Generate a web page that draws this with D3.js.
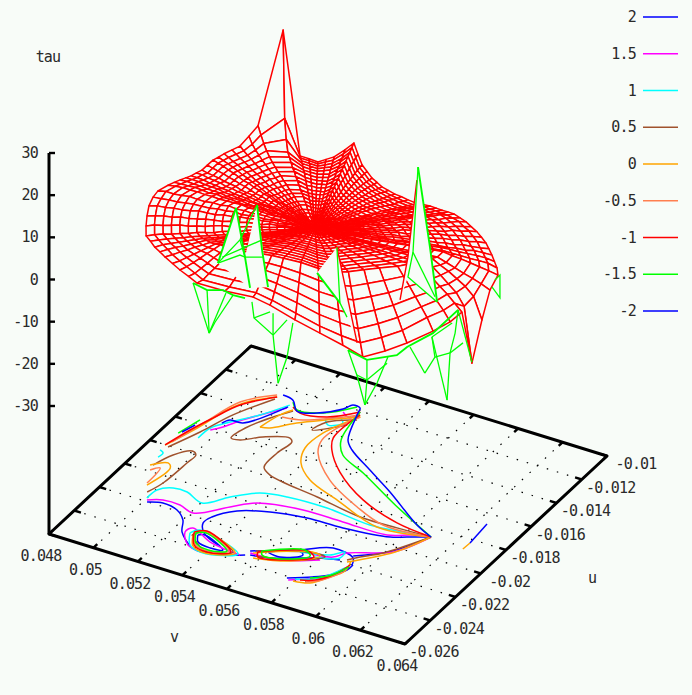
<!DOCTYPE html>
<html>
<head>
<meta charset="utf-8">
<script src="https://d3js.org/d3.v7.min.js"></script>
<style>
body { margin: 0; background: #f8fcf8; }
text { font-family: "DejaVu Sans Mono", monospace; font-size: 15px; letter-spacing: -0.8px; fill: #2a2a2a; }
</style>
</head>
<body>
<div id="chart"></div>
<script>
var vTicks = [0.048, 0.05, 0.052, 0.054, 0.056, 0.058, 0.06, 0.062, 0.064];
var uTicks = [-0.026, -0.024, -0.022, -0.02, -0.018, -0.016, -0.014, -0.012, -0.01];
var tauTicks = [30, 20, 10, 0, -10, -20, -30];
var legendLabels = ["2", "1.5", "1", "0.5", "0", "-0.5", "-1", "-1.5", "-2"];
var legendColors = ["#0000ff", "#ff00ff", "#00ffff", "#a0522d", "#ffa500", "#ff7f50", "#ff0000", "#00ff00", "#0000ff"];

// surface is a polar mesh: centre point, one rim point per spoke, ring fractions between
var centerV = 0.05516, centerU = -0.01755, centerTau = 0.1;
var spokeV = [.04968,.04932,.04899,.04869,.04854,.04845,.04854,.04867,.0488,.04891,.04902,.04911,.04921,.04921,.04922,.04931,.04941,.04957,.04973,.04992,.05012,.05097,.05176,.05213,.05251,.05278,.05305,.05327,.05343,.05384,.05425,.0546,.05495,.05526,.05557,.05593,.0563,.05665,.057,.05748,.05779,.0581,.0584,.05869,.05898,.05927,.05962,.05997,.06033,.0607,.06105,.0614,.0617,.062,.0623,.06261,.06293,.06317,.06319,.06307,.06295,.06284,.06255,.06218,.06173,.0612,.06024,.0591,.05775,.0564,.05554,.05437,.05314,.0526,.05206,.05157,.05108,.05071,.05034,.05001];
var spokeU = [-.02127,-.02064,-.01998,-.0193,-.01871,-.01816,-.01752,-.01727,-.01702,-.01678,-.01655,-.01628,-.01602,-.01559,-.01516,-.01489,-.01462,-.01427,-.01392,-.01355,-.01318,-.01269,-.01274,-.01269,-.01264,-.01248,-.01232,-.01185,-.01142,-.01182,-.01222,-.01244,-.01266,-.01281,-.01297,-.0131,-.01323,-.01332,-.01342,-.01348,-.01355,-.01362,-.01366,-.01371,-.01375,-.01379,-.01392,-.01406,-.01427,-.01448,-.01474,-.01501,-.0153,-.01559,-.01592,-.01626,-.01675,-.01781,-.01848,-.01906,-.01964,-.02038,-.02123,-.02264,-.02358,-.0244,-.02429,-.0241,-.0237,-.0233,-.02312,-.02329,-.02333,-.02305,-.02278,-.02251,-.02224,-.02199,-.02174,-.0215];
var ringFractions = [.045,.09,.135,.18,.225,.27,.315,.36,.405,.45,.5,.55,.6,.65,.7,.75,.8,.85,.9,.95,1];
var tauGrid = [
[.1,.2,.3,.2,.2,.4,.3,.4,.3,.1,.2,.3,.1,.2,.3,.1,.2,.1,.2,.1,-.1],
[.2,.1,.2,.4,.3,.2,.3,.2,.3,.1,.2,.4,.3,.1,.2,.1,.3,.2,.1,.2,-.1],
[.1,.2,.1,.3,.2,.4,.1,.2,.3,.2,.3,.1,.2,.3,.2,.1,.3,.1,.2,.1,-.1],
[.2,.1,.3,.2,.1,.3,.2,.4,.3,.4,.2,.3,.1,.2,.4,.2,.1,.2,.1,.2,-.1],
[.1,.3,.2,.1,.3,.2,.1,.3,.2,.1,.4,.2,.3,.1,.2,.3,.2,.1,.2,.1,.1],
[.2,.2,.1,.3,.2,.1,.3,.2,.1,.3,.2,.5,.2,.3,.1,.2,.4,.2,.1,.2,-.1],
[.1,.1,.3,.2,.4,.2,.1,.2,.3,.2,.4,.3,.2,.1,.2,.1,.2,.1,.1,-.1,-.4],
[.2,.3,.1,.2,.3,.1,.2,.4,.2,.3,.1,.2,.3,.2,.4,.1,.2,.3,.1,0,-.2],
[.1,.3,.1,.2,.3,.4,.2,.1,.3,.2,.1,.3,.2,.1,.3,.2,.1,.2,.1,.1,-.1],
[.2,.1,.2,.3,.2,.1,.3,.2,.1,.4,.3,.2,.1,.2,.1,.3,.2,.1,.2,.1,-.1],
[.2,.3,.1,.2,.3,.1,.2,.4,.3,.2,.1,.3,.2,.1,.2,.1,.2,.1,.2,.1,-.1],
[.1,.2,.3,.2,.1,.2,.4,.3,.2,.1,.3,.2,.4,.2,.3,.1,.3,.2,.1,.2,0],
[.1,.2,.3,.1,.4,.2,.3,.2,.1,.3,.2,.4,.3,.2,.4,.3,.2,.3,.2,.1,.1],
[.2,.1,.2,.3,.1,.3,.2,.1,.3,.2,.3,.1,.2,.3,.2,.3,.2,.3,.2,.1,.1],
[.3,.1,.2,.4,.2,.3,.1,.3,.2,.4,.2,.3,.2,.3,.1,.2,.3,.2,.3,.2,.1],
[.1,.3,.2,.1,.3,.2,.3,.2,.1,.3,.1,.2,.3,.2,.3,.2,.3,.3,.3,.2,.2],
[.2,.3,.1,.2,.1,.4,.2,.1,.3,.2,.3,.4,.3,.2,.3,.4,.3,.4,.3,.4,.4],
[.1,.2,.1,.3,.2,.1,.3,.2,.3,.2,.4,.2,.3,.4,.3,.3,.4,.4,.4,.5,.6],
[.1,.2,.3,.1,.3,.2,.3,.2,.4,.3,.4,.3,.5,.4,.4,.5,.4,.5,.5,.6,.8],
[.1,.2,.2,.1,.2,.3,.2,.3,.3,.4,.3,.5,.4,.5,.5,.6,.7,.9,1.1,1.5,2.4],
[.1,.2,.1,.3,.2,.3,.2,.4,.3,.3,.4,.3,.5,.4,.5,.6,.9,1.3,2,3,4.2],
[.2,.1,.3,.2,.1,.3,.2,.4,.3,.2,.3,.4,.3,.5,.4,.6,.8,1,3,7,26.9],
[.1,.2,.1,.2,.3,.1,.2,.1,.2,.1,.1,0,.1,0,.1,-.2,-.3,-.5,-.8,-1.1,-1.5],
[.2,.1,.1,.2,.1,.2,.1,.1,.2,.1,0,.1,0,-.1,-.2,-.3,-.5,-.7,-1,-1.3,-1.7],
[.2,.1,.2,0,.1,.2,.1,.2,0,.1,.1,0,-.1,-.1,-.3,-.4,-.6,-.9,-1.2,-1.6,-2],
[.1,.2,0,.1,.2,0,.1,.2,0,.1,0,-.1,-.1,-.2,-.3,-.4,-.5,-.7,-.9,-1.1,-1.4],
[.1,0,.2,.1,0,.1,.2,.1,0,.1,-.1,-.1,-.2,-.3,-.3,-.4,-.3,-.5,-.6,-.7,-.8],
[.1,.2,0,.1,.2,0,.1,0,.2,.1,0,-.1,0,-.1,0,0,-.2,-.1,-.2,-.1,-.1],
[.2,.1,.1,0,.1,.2,.1,0,.1,.2,.1,.2,.1,.2,.3,.2,.3,.4,.4,.5,.6],
[.1,.2,0,.1,.2,.1,0,.1,.2,.1,.1,0,.1,0,-.1,-.1,0,-.1,-.2,-.2,-.3],
[.1,.2,0,.1,-.1,.1,0,-.1,.1,0,-.1,-.2,-.1,-.2,-.3,-.4,-.5,-.6,-.7,-.9,-1],
[.2,.1,0,.1,.1,0,-.1,0,.1,-.1,-.1,-.2,-.2,-.3,-.4,-.5,-.7,-.8,-1,-1.2,-1.4],
[.2,.1,.1,-.1,0,-.1,0,.1,-.1,-.2,-.3,-.2,-.3,-.4,-.5,-.7,-.9,-1.1,-1.3,-1.6,-1.8],
[.1,0,.1,0,-.1,0,-.1,0,-.1,-.2,-.2,-.3,-.3,-.5,-.6,-.8,-1,-1.2,-1.4,-1.7,-1.9],
[.1,0,.1,0,-.1,-.2,-.1,-.3,-.2,-.3,-.2,-.4,-.4,-.6,-.7,-.9,-1,-1.2,-1.5,-1.8,-2],
[0,.1,0,-.1,.1,-.2,-.1,-.2,-.3,-.2,-.3,-.3,-.4,-.5,-.7,-.8,-1,-1.2,-1.4,-1.7,-1.9],
[0,.1,0,-.1,.1,-.2,-.3,-.2,-.3,-.4,-.3,-.4,-.5,-.5,-.7,-.9,-1.1,-1.3,-1.4,-1.6,-1.8],
[.1,0,0,-.1,0,-.1,-.2,-.1,-.3,-.2,-.4,-.3,-.4,-.6,-.6,-.8,-1,-1.1,-1.3,-1.5,-1.6],
[.1,0,-.1,.1,-.1,-.2,-.1,-.3,-.2,-.3,-.2,-.3,-.3,-.5,-.6,-.8,-1,-1.2,-1.2,-1.4,-1.5],
[.1,-.1,.1,0,-.2,-.1,-.3,-.2,-.4,-.3,-.4,-.4,-.6,-.5,-.7,-.8,-.9,-1.1,-1.2,-1.3,-1.5],
[.1,0,0,.1,-.1,-.2,-.1,-.2,-.3,-.2,-.3,-.2,-.4,-.4,-.6,-.5,-.7,-.8,-.9,-.9,-1],
[0,.1,0,-.1,.1,-.2,-.1,-.2,-.1,-.2,-.3,-.2,-.4,-.3,-.4,-.3,-.5,-.4,-.5,-.5,-.6],
[0,.1,.1,0,-.1,.1,-.2,-.1,-.2,-.1,-.2,-.3,-.2,-.3,-.2,-.4,-.3,-.4,-.4,-.5,-.5],
[.1,0,.1,-.1,0,-.1,.1,0,-.2,-.1,-.3,-.2,-.3,-.2,-.4,-.3,-.4,-.3,-.4,-.3,-.4],
[.1,.1,.2,0,.1,0,-.1,.1,0,-.1,.1,0,-.1,-.2,-.1,-.2,-.2,-.3,-.2,-.3,-.2],
[.1,.2,0,.1,0,-.1,.1,0,.2,-.1,.1,-.2,0,-.1,.1,-.2,0,-.1,.1,-.2,-.1],
[.2,.1,.1,0,.2,.1,0,.2,.1,-.1,.1,0,.1,-.1,.2,0,.1,-.1,.1,0,-.1],
[.2,.1,.1,0,.2,.1,.1,0,.2,-.1,.1,0,.1,-.1,.2,0,.1,-.1,0,.1,-.1],
[.1,.1,0,.2,.1,.2,-.1,.1,.2,0,-.1,.2,0,.1,-.1,.1,.2,0,.1,0,-.1],
[.1,.1,0,.2,.1,.2,-.1,.2,0,.1,-.1,.2,0,.1,.1,0,-.1,.2,0,.1,-.1],
[.2,.1,.1,0,.2,.1,0,.2,0,.1,.2,-.1,.2,0,.1,.2,0,.1,-.1,0,-.1],
[.2,.1,0,.2,.1,0,.2,.1,0,.2,-.1,.1,.2,0,.1,.2,0,.1,-.1,0,-.1],
[.1,.2,.1,.2,.1,0,.2,.1,0,.2,.1,0,.2,.1,0,.1,-.1,.1,-.1,-.2,-.2],
[.1,.2,.1,0,.2,.1,0,.2,.1,0,.2,.1,0,.2,.1,0,.1,-.1,.1,-.1,-.4],
[.1,.1,.2,.3,.3,.4,.5,.4,.5,.5,.5,.6,.6,.6,.7,.6,.4,.3,.2,0,-.5],
[.1,.1,.2,.3,.3,.4,.5,.5,.6,.7,.7,.8,.9,.9,1,.8,.6,.4,.3,.1,-.6],
[.1,.3,.4,.5,.7,.8,.9,1,1.2,1.3,1.5,1.6,1.7,1.9,2,1.6,1.3,.9,.5,.1,-.4],
[.2,.4,.6,.8,1,1.2,1.4,1.6,1.8,2,2.2,2.4,2.6,2.8,3.1,2.5,1.9,1.3,.8,.2,-.6],
[.3,.5,.8,1,1.3,1.6,1.8,2.1,2.4,2.6,2.9,3.2,3.5,3.8,4.1,3.3,2.6,1.6,.6,-1,-5.8],
[.3,.6,.9,1.2,1.6,1.8,2.2,2.4,2.8,3.1,3.4,3.8,4.1,4.4,4.8,3.9,2.8,1.6,.4,-2,-14.6],
[.4,.7,1,1.3,1.7,2,2.3,2.6,3,3.3,3.7,4,4.4,4.7,5.1,4.1,3.2,2.2,1.3,.1,-1.1],
[.4,.8,1.2,1.6,2,2.3,2.8,3.1,3.5,3.9,4.4,4.8,5.2,5.6,6.1,4.9,3.8,2.6,1.5,.2,-1.5],
[.5,.9,1.4,1.8,2.2,2.7,3.1,3.5,4,4.4,5,5.4,5.9,6.4,6.9,5.6,4.4,3,1.7,.3,-1.8],
[.6,1.1,1.7,2.2,2.8,3.4,4,4.5,5.1,5.6,6.3,6.9,7.5,8.1,8.8,7.1,5.5,3.8,2.2,.4,-1.3],
[.7,1.2,1.9,2.5,3.1,3.7,4.4,4.9,5.6,6.2,6.9,7.6,8.3,8.9,9.7,7.8,6.1,4.2,2.4,.5,-1.3],
[.7,1.3,2,2.6,3.3,3.9,4.6,5.2,5.9,6.5,7.3,8,8.7,9.4,10.2,8.2,6.4,4.4,2.5,.6,-1.3],
[.6,1.1,1.7,2.2,2.8,3.4,4,4.5,5.1,5.6,6.3,6.9,7.5,8.1,8.8,7.1,5.5,3.8,2.2,.5,-.4],
[.5,1,1.6,2,2.6,3,3.6,4.1,4.6,5.1,5.7,6.2,6.8,7.3,8,6.4,5,3.4,2,.5,.1],
[.5,.9,1.4,1.8,2.3,2.7,3.2,3.6,4.1,4.6,5.1,5.6,6.1,6.6,7.1,5.7,4.5,3.1,1.8,.4,-.1],
[.4,.7,1.1,1.5,1.9,2.2,2.6,3,3.4,3.7,4.2,4.6,5,5.4,5.8,4.7,3.6,2.5,1.4,.3,.1],
[.4,.7,1,1.3,1.7,2,2.3,2.6,3,3.3,3.7,4,4.4,4.7,5.1,4.1,3.2,2.2,1.3,.3,.1],
[.3,.6,1,1.2,1.6,1.9,2.2,2.5,2.8,3.1,3.5,3.8,4.2,4.5,4.9,3.9,3.1,2.1,1.2,.3,.1],
[.3,.5,.8,1,1.3,1.5,1.8,2,2.3,2.5,2.8,3.1,3.4,3.7,4,3.2,2.5,1.7,1,.2,.1],
[.2,.4,.7,.9,1.1,1.3,1.6,1.8,2,2.2,2.5,2.7,3,3.2,3.5,2.8,2.2,1.5,.8,.2,0],
[.2,.4,.6,.8,1,1.1,1.3,1.5,1.7,1.9,2.1,2.3,2.5,2.7,3,2.4,1.9,1.3,.7,.2,-.1],
[.1,.3,.4,.5,.7,.8,1,1.1,1.2,1.4,1.5,1.7,1.8,2,2.1,1.7,1.3,.9,.5,.1,-.1],
[.1,.2,.3,.4,.5,.5,.6,.7,.8,.9,1,1.1,1.2,1.3,1.4,1.1,.9,.6,.4,.1,-.1],
[.1,.1,.2,.3,.3,.4,.5,.5,.6,.7,.7,.8,.9,.9,1,.8,.6,.4,.3,.1,-.2],
[0,.1,.1,.1,.2,.2,.2,.3,.3,.3,.4,.4,.4,.5,.5,.4,.3,.2,.1,0,-.4],
[0,0,.1,.1,.1,.1,.1,.1,.1,.1,.2,.2,.2,.2,.2,.2,.1,.1,.1,0,-.2]
];

// underside flaps hanging off the front rim, points are [v, u, tau]
var flapFills = [
[[.06092,-.01963,26.9],[.06062,-.01981,8.7],[.06035,-.01996,-1.5],[.06062,-.01981,3.9],[.0616,-.01923,-2],[.06136,-.01937,11],[.06096,-.01961,30]],
[[.0541,-.02337,6.5],[.05471,-.02301,19.6],[.05501,-.02283,7.9],[.05542,-.0226,20.3],[.05579,-.02238,.8],[.05518,-.02273,.6]],
[[.05989,-.02415,21.9],[.05922,-.02454,15.8],[.05999,-.02409,8.7],[.06023,-.02395,5.3],[.06057,-.02375,-.8]]
];
var flapThin = [
[[.05308,-.02354,.6],[.05362,-.02322,-11.3]],
[[.05355,-.02326,-1.1],[.05362,-.02322,-11.3]],
[[.05419,-.02289,-1.8],[.05362,-.02322,-11.3]],
[[.05443,-.02275,-2.3],[.05382,-.02311,-8.7],[.05362,-.02322,-11.3]],
[[.05572,-.02353,.4],[.05579,-.02349,-3.4],[.05643,-.02311,-7.5],[.0566,-.02301,-18.9]],
[[.05643,-.02311,-2.3],[.05643,-.02311,-7.5]],
[[.0571,-.02272,-4.6],[.0569,-.02283,-12.7],[.0566,-.02301,-18.9]],
[[.05579,-.02349,-3.4],[.05633,-.02317,-2]],
[[.05643,-.02311,-7.5],[.0569,-.02283,-3.9]],
[[.06048,-.02431,-1.1],[.06078,-.02414,-7],[.06105,-.02398,-14.1]],
[[.06112,-.02394,-3.4],[.06112,-.02394,-8.2],[.06105,-.02398,-14.1]],
[[.06183,-.02353,-2.7],[.06146,-.02374,-8.9],[.06105,-.02398,-14.1]],
[[.06078,-.02414,-7],[.06112,-.02394,-8.2],[.0618,-.02354,-4.2]],
[[.06156,-.0213,-7],[.06206,-.02101,-13.2]],
[[.0623,-.02087,-4.6],[.0624,-.02081,-9.4],[.06206,-.02101,-13.2]],
[[.0623,-.02087,-4.6],[.06281,-.02057,-19.6]],
[[.06318,-.02035,1.8],[.06308,-.02041,-3.7],[.06291,-.02051,-8.4],[.06281,-.02057,-19.6]],
[[.06318,-.02035,1.8],[.06365,-.02008,-10.6]],
[[.0623,-.02087,-4.6],[.06298,-.02047,-1.3]],
[[.06291,-.02051,-8.4],[.06335,-.02026,-6]],
[[.0624,-.02081,-9.4],[.06291,-.02051,-8.4]],
[[.06096,-.01961,30],[.06079,-.01971,9.8],[.06062,-.01981,3.9],[.0616,-.01923,-2]],
[[.06079,-.01971,9.8],[.06153,-.01927,-.8]],
[[.0541,-.02337,6.5],[.05484,-.02293,8.4],[.05501,-.02283,7.9],[.05562,-.02248,7.9]],
[[.05424,-.02329,7.9],[.05559,-.0225,12]],
[[.05542,-.0226,20.3],[.05484,-.02293,12],[.0541,-.02337,6.5]],
[[.05484,-.02293,12],[.05501,-.02283,7.9]],
[[.0629,-.01694,-1.1],[.06307,-.01684,.1],[.06307,-.01684,-5.3],[.0628,-.017,-2.7]],
[[.05989,-.02415,21.9],[.05999,-.02409,8.7],[.06023,-.02395,5.3]]
];
var flapHeavy = [
[[.05308,-.02354,.6],[.05355,-.02326,-1.1],[.05409,-.02295,-1.1],[.05443,-.02275,-2.3],[.05483,-.02251,-3]],
[[.06048,-.02431,-1.1],[.06112,-.02394,-3.4],[.06213,-.02335,-2.3],[.06146,-.02136,-7],[.06233,-.02085,-3.7],[.06318,-.02035,1.8]],
[[.06096,-.01961,30],[.06136,-.01937,11],[.0616,-.01923,-2]],
[[.05471,-.02301,19.6],[.0541,-.02337,6.5]],
[[.05471,-.02301,19.6],[.05501,-.02283,7.9],[.05518,-.02273,.6]],
[[.05542,-.0226,20.3],[.05559,-.0225,9.6],[.05579,-.02238,.8]],
[[.05922,-.02454,15.8],[.05999,-.02409,8.7]]
];
var flapRed = [
[[.06092,-.01963,26.9],[.06062,-.01981,8.7],[.06035,-.01996,-1.5]],
[[.05989,-.02415,21.9],[.06057,-.02375,-.8]]
];

// contour lines on the base, points are [v, u]
var contourPlus2 = [
[[.061,-.01865],[.06019,-.01913],[.05962,-.01946],[.0577,-.01981],[.05613,-.01989],[.05466,-.02023],[.05351,-.02082],[.05288,-.0217],[.0528,-.02225],[.05319,-.02287],[.05411,-.02337]],
[[.05015,-.02202],[.05072,-.02177],[.05145,-.02194],[.05201,-.02246],[.05242,-.02325],[.05334,-.02407],[.05382,-.02413],[.05477,-.02383],[.05538,-.02347]],
[[.05306,-.02312],[.0533,-.02298],[.05445,-.02359],[.05395,-.02371],[.05332,-.02357],[.05306,-.02312]],
[[.05604,-.02283],[.05708,-.02213],[.05733,-.02233],[.05663,-.02291],[.05604,-.02283]],
[[.0554,-.02311],[.05695,-.02213],[.0581,-.02129],[.05913,-.02153],[.05935,-.022]],
[[.05555,-.02337],[.05633,-.02317],[.05792,-.02224],[.05876,-.02192]],
[[.05906,-.0214],[.06022,-.02029],[.061,-.01865]],
[[.05762,-.02411],[.05844,-.02355],[.05896,-.02308],[.05936,-.02242],[.05938,-.02198]]
];
var contourPlus15 = [
[[.061,-.01865],[.06031,-.01888],[.05944,-.01939],[.05748,-.01943],[.0557,-.01945],[.05389,-.01992],[.05313,-.0207],[.0521,-.02182],[.05137,-.02156],[.05061,-.02157],[.05007,-.02189]],
[[.04967,-.01617],[.04999,-.01573],[.05041,-.01488],[.05146,-.01325]],
[[.0535,-.0124],[.05395,-.01265],[.05408,-.01206]],
[[.05521,-.02357],[.05373,-.02333],[.05264,-.02277],[.05252,-.02319],[.05309,-.02396],[.05382,-.02413]],
[[.0574,-.02212],[.05842,-.02187],[.05875,-.02133],[.06026,-.02036],[.061,-.01865]],
[[.05548,-.02324],[.05674,-.0231],[.05809,-.02231]],
[[.05774,-.02422],[.05827,-.02382],[.05894,-.02318],[.05929,-.02212]]
];
var contourPlus1 = [
[[.061,-.01865],[.05988,-.01888],[.0585,-.01909],[.05644,-.01885],[.05469,-.01893],[.05363,-.01922],[.05277,-.02006],[.05204,-.021],[.05114,-.02059],[.05052,-.02061],[.05005,-.02106],[.05,-.02177]],
[[.0487,-.01844],[.04891,-.01857],[.04889,-.01893]],
[[.05318,-.01326],[.05347,-.01353],[.05389,-.01311],[.05361,-.01285],[.05318,-.01326]],
[[.04955,-.01692],[.0496,-.01604],[.05005,-.01527],[.0508,-.01423],[.05145,-.01301]],
[[.05272,-.02315],[.05295,-.02276],[.0551,-.02354],[.05389,-.02417],[.05316,-.02392],[.05272,-.02315]],
[[.05712,-.0222],[.05824,-.0218],[.05864,-.02131],[.05869,-.02179],[.05781,-.02222]],
[[.05793,-.02402],[.05874,-.02346],[.05922,-.02233]]
];
var contourPlus05 = [
[[.061,-.01865],[.05952,-.01874],[.05788,-.01877],[.05571,-.01834],[.05332,-.01787],[.05283,-.01748],[.05276,-.01632],[.05286,-.01533],[.05265,-.01511],[.0517,-.01558],[.05104,-.01622],[.05066,-.01627],[.05078,-.01535],[.05132,-.0141],[.05178,-.01333]],
[[.05411,-.01315],[.05311,-.01416],[.05332,-.01335],[.05426,-.01263]],
[[.04979,-.02138],[.05,-.02049],[.05008,-.01874],[.05009,-.01805],[.04982,-.01787],[.04932,-.0185],[.04901,-.01954]],
[[.04886,-.01809],[.0494,-.0165],[.04989,-.01476],[.05073,-.01291]],
[[.059,-.02178],[.05933,-.02133],[.05996,-.02062],[.061,-.01865]],
[[.05286,-.02324],[.05316,-.02281],[.05486,-.02352],[.05395,-.02405],[.05286,-.02324]],
[[.0556,-.023],[.05767,-.02196],[.05815,-.02202],[.05724,-.02281],[.05579,-.02332]]
];
var contourZero = [
[[.061,-.01865],[.05881,-.01908],[.05648,-.01814],[.05485,-.0174],[.05393,-.01649],[.05352,-.01545],[.05359,-.01413],[.05426,-.01238]],
[[.05124,-.015],[.05161,-.01486],[.05234,-.01402],[.05426,-.01238]],
[[.05124,-.015],[.05148,-.01383],[.05174,-.01326]],
[[.04869,-.01802],[.04916,-.0163],[.04951,-.01456],[.04989,-.01365],[.05073,-.01274]],
[[.04891,-.0196],[.04944,-.01911],[.0497,-.01939],[.04953,-.02094]],
[[.05293,-.02329],[.05309,-.02277],[.05497,-.02354],[.05396,-.02413],[.05329,-.02392],[.05293,-.02329]],
[[.05558,-.02319],[.05753,-.02196],[.05795,-.02205],[.05711,-.02297],[.05576,-.02351]],
[[.05794,-.02419],[.05858,-.02398],[.05897,-.02332],[.05933,-.02252],[.05917,-.02176]],
[[.05907,-.02191],[.06033,-.02032],[.061,-.01865]],
[[.06251,-.01879],[.06253,-.01826]]
];
var contourMinus05 = [
[[.061,-.01865],[.05894,-.01883],[.05742,-.01819],[.05552,-.01701],[.05414,-.01551],[.0538,-.0146],[.05388,-.01354],[.05426,-.01238]],
[[.05162,-.01392],[.05243,-.0137],[.05418,-.01225]],
[[.04909,-.01992],[.04936,-.01959],[.04946,-.02081]],
[[.04881,-.01769],[.04921,-.01576],[.04966,-.01379],[.05066,-.01262]],
[[.05293,-.02312],[.0532,-.02279],[.05469,-.02353],[.05394,-.02396],[.05329,-.02376],[.05293,-.02312]],
[[.05838,-.02401],[.05888,-.02355],[.0593,-.02263]]
];
var contourMinus1 = [
[[.061,-.01865],[.05934,-.01842],[.05736,-.01762],[.05557,-.0163],[.0545,-.01505],[.05411,-.01426],[.05418,-.01225]],
[[.05163,-.01307],[.05208,-.01332],[.05314,-.01303],[.05408,-.01206]],
[[.04869,-.01802],[.04899,-.01657],[.04933,-.01536],[.04977,-.01399],[.05073,-.01274]],
[[.05283,-.02301],[.05322,-.02269],[.05479,-.02356],[.05398,-.02403],[.0533,-.02384],[.05283,-.02301]],
[[.0557,-.02303],[.05735,-.02197],[.05777,-.02224],[.05684,-.02304],[.05588,-.02335],[.0557,-.02303]],
[[.05814,-.02399],[.05865,-.02369],[.0591,-.02291],[.05928,-.02204]]
];
var contourMinus15 = [
[[.061,-.01865],[.05863,-.01731],[.05639,-.0159],[.05505,-.01515],[.05445,-.01423],[.05408,-.01206]],
[[.05145,-.01275],[.05187,-.01318],[.05286,-.01286],[.05379,-.0118]],
[[.0487,-.017],[.04896,-.01573]],
[[.05292,-.02303],[.05326,-.02283],[.05462,-.02357],[.05395,-.02388],[.05328,-.02367],[.05292,-.02303]],
[[.0558,-.02288],[.05722,-.02197],[.05761,-.02225],[.0567,-.02303],[.05595,-.02314],[.0558,-.02288]],
[[.0584,-.02366],[.05903,-.02304],[.05932,-.02218]]
];
var contourMinus2 = [
[[.061,-.01865],[.06009,-.01816],[.05798,-.01658],[.05651,-.01558],[.05518,-.01465],[.05468,-.01409],[.05404,-.01217],[.05393,-.01181],[.05358,-.01176],[.05339,-.01221],[.05266,-.01298],[.05191,-.01325],[.05138,-.01263],[.05086,-.0125]],
[[.04981,-.0155],[.04997,-.01514],[.05052,-.01508],[.05146,-.01316]],
[[.04879,-.01686],[.04898,-.01615]],
[[.06253,-.01826],[.06242,-.01672]]
];
var contourLines = [contourPlus2, contourPlus15, contourPlus1, contourPlus05, contourZero, contourMinus05, contourMinus1, contourMinus15, contourMinus2];

var w = 692, h = 695;
var bg = "#f8fcf8";

// oblique view, each data axis adds a fixed screen offset
var xFromV = d3.scaleLinear().domain([0.048, 0.064]).range([0, 356]);
var yFromV = d3.scaleLinear().domain([0.048, 0.064]).range([0, 110]);
var xFromU = d3.scaleLinear().domain([-0.026, -0.01]).range([0, 202]);
var yFromU = d3.scaleLinear().domain([-0.026, -0.01]).range([0, -188]);
var yFromTau = d3.scaleLinear().domain([-30, 30]).range([406, 153]);
var originX = 49, originY = 534;
var tauBase = yFromTau.invert(originY);
var legendY = d3.scaleLinear().domain([0, 8]).range([17, 311]);

function project(v, u, tau) {
    return [originX + xFromV(v) + xFromU(u), yFromTau(tau) + yFromV(v) + yFromU(u)];
}
function onBase(v, u) { return project(v, u, tauBase); }

var line = d3.line();
var smoothLine = d3.line().curve(d3.curveCatmullRom.alpha(0.5));
var svg = d3.select("#chart").append("svg").attr("width", w).attr("height", h);
svg.append("rect").attr("width", w).attr("height", h).attr("fill", bg);

// dotted grid on the base
var grid = svg.append("g").attr("fill", "none").attr("stroke", "#000").attr("stroke-width", 1.2).attr("stroke-dasharray", "1.5 9");
vTicks.slice(1, -1).forEach(function (v) {
    grid.append("path").attr("d", line([onBase(v, -0.026), onBase(v, -0.01)]));
});
uTicks.slice(1, -1).forEach(function (u) {
    grid.append("path").attr("d", line([onBase(0.048, u), onBase(0.064, u)]));
});

// base frame and ticks
var frame = svg.append("g").attr("fill", "none").attr("stroke", "#000").attr("stroke-width", 3);
frame.append("path").attr("stroke-linejoin", "round").attr("d", line([onBase(0.048, -0.026), onBase(0.064, -0.026), onBase(0.064, -0.01), onBase(0.048, -0.01)]) + "Z");
vTicks.forEach(function (v) {
    frame.append("path").attr("stroke-width", 2.4).attr("d", line([onBase(v, -0.026), onBase(v, -0.0257)]));
    frame.append("path").attr("stroke-width", 2.4).attr("d", line([onBase(v, -0.01), onBase(v, -0.0103)]));
});
uTicks.forEach(function (u) {
    frame.append("path").attr("stroke-width", 2.4).attr("d", line([onBase(0.064, u), onBase(0.0637, u)]));
    frame.append("path").attr("stroke-width", 2.4).attr("d", line([onBase(0.048, u), onBase(0.0483, u)]));
});
frame.append("path").attr("d", line([[originX, yFromTau(30)], [originX, originY]]));
tauTicks.forEach(function (t) {
    frame.append("path").attr("stroke-width", 2.4).attr("d", line([[originX, yFromTau(t)], [originX + 6, yFromTau(t)]]));
});

// axis labels
svg.selectAll(".tauLabel").data(tauTicks).enter().append("text")
    .attr("x", 38).attr("y", function (d) { return yFromTau(d) + 5; })
    .attr("text-anchor", "end").text(function (d) { return d; });
svg.selectAll(".vLabel").data(vTicks).enter().append("text")
    .attr("x", function (d) { return onBase(d, -0.026)[0] - 8; })
    .attr("y", function (d) { return onBase(d, -0.026)[1] + 27; })
    .attr("text-anchor", "middle").text(function (d) { return d; });
svg.selectAll(".uLabel").data(uTicks).enter().append("text")
    .attr("x", function (d) { return onBase(0.064, d)[0] + 29; })
    .attr("y", function (d) { return onBase(0.064, d)[1] + 13; })
    .attr("text-anchor", "middle").text(function (d) { return d; });
svg.append("text").attr("x", 48).attr("y", 62).attr("text-anchor", "middle").text("tau");
svg.append("text").attr("x", 174).attr("y", 642).attr("text-anchor", "middle").text("v");
svg.append("text").attr("x", 592).attr("y", 583).attr("text-anchor", "middle").text("u");

// contours
contourLines.forEach(function (lines, i) {
    svg.append("g").attr("fill", "none").attr("stroke", legendColors[i]).attr("stroke-width", 1.5)
        .selectAll("path").data(lines).enter().append("path")
        .attr("d", function (pts) { return smoothLine(pts.map(function (p) { return onBase(p[0], p[1]); })); });
});

// legend
legendLabels.forEach(function (label, i) {
    svg.append("text").attr("x", 636).attr("y", legendY(i) + 5).attr("text-anchor", "end").text(label);
    svg.append("line").attr("x1", 643).attr("x2", 678).attr("y1", legendY(i)).attr("y2", legendY(i))
        .attr("stroke", legendColors[i]).attr("stroke-width", 1.3);
});

// red mesh facets, back to front, each one hides what is behind it
var nodeV = function (s, r) { return r < 0 ? centerV : centerV + ringFractions[r] * (spokeV[s] - centerV); };
var nodeU = function (s, r) { return r < 0 ? centerU : centerU + ringFractions[r] * (spokeU[s] - centerU); };
var nodeTau = function (s, r) { return r < 0 ? centerTau : tauGrid[s][r]; };

var facets = [];
for (var s = 0; s < spokeV.length; s++) {
    var s2 = (s + 1) % spokeV.length;
    for (var r = -1; r < ringFractions.length - 1; r++) {
        var corners = [[s, r], [s, r + 1], [s2, r + 1], [s2, r]];
        facets.push({
            pts: corners.map(function (c) { return project(nodeV(c[0], c[1]), nodeU(c[0], c[1]), nodeTau(c[0], c[1])); }),
            depth: d3.mean(corners, function (c) { return onBase(nodeV(c[0], c[1]), nodeU(c[0], c[1]))[1]; })
        });
    }
}
facets.sort(function (a, b) { return a.depth - b.depth; });
svg.append("g").attr("fill", bg).attr("stroke", "#ff0000").attr("stroke-width", 1.5).attr("stroke-linejoin", "round")
    .selectAll("path").data(facets).enter().append("path")
    .attr("d", function (d) { return line(d.pts) + "Z"; });

// flaps on top
function flapPath(pts) {
    return line(pts.map(function (p) { return project(p[0], p[1], p[2]); }));
}
svg.append("g").attr("fill", bg).attr("stroke", "none")
    .selectAll("path").data(flapFills).enter().append("path")
    .attr("d", function (d) { return flapPath(d) + "Z"; });
svg.append("g").attr("fill", "none").attr("stroke", "#ff0000").attr("stroke-width", 1.4)
    .selectAll("path").data(flapRed).enter().append("path").attr("d", flapPath);
svg.append("g").attr("fill", "none").attr("stroke", "#00ff00").attr("stroke-width", 1.3)
    .selectAll("path").data(flapThin).enter().append("path").attr("d", flapPath);
svg.append("g").attr("fill", "none").attr("stroke", "#00ff00").attr("stroke-width", 1.9)
    .selectAll("path").data(flapHeavy).enter().append("path").attr("d", flapPath);
</script>
</body>
</html>
